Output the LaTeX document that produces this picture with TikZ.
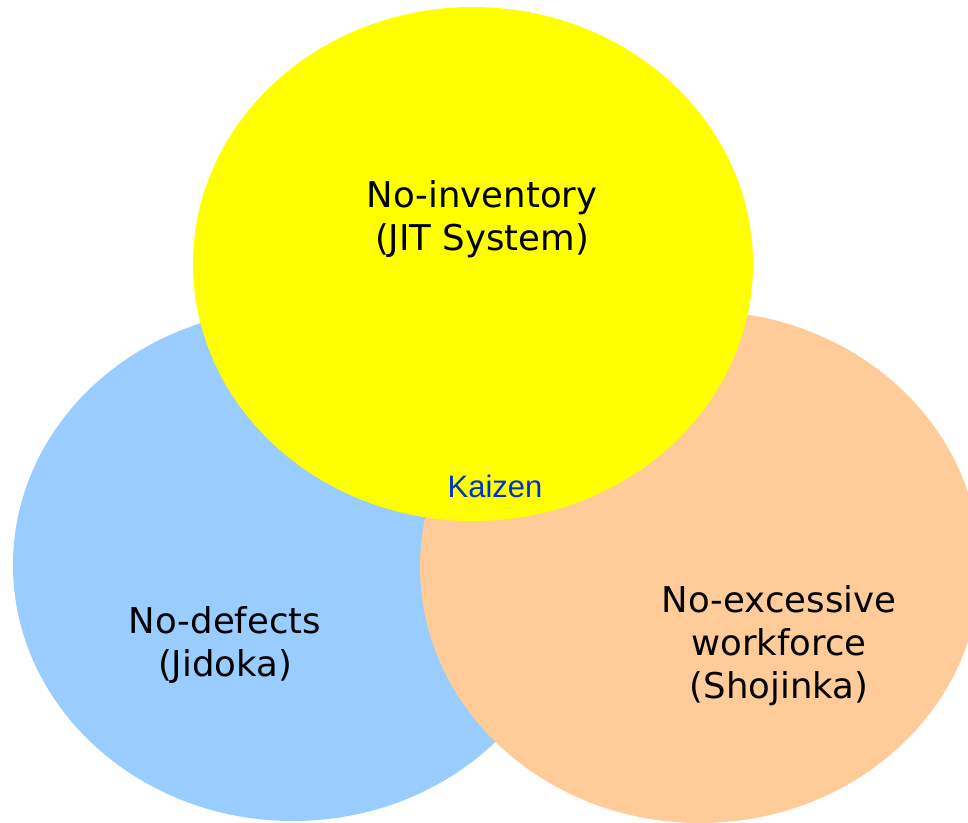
\documentclass[tikz,border=0pt]{standalone}
\usepackage{fontspec}
\usepackage{tikz}
\usetikzlibrary{positioning}
\newfontfamily\labelfont{DejaVu Sans}
\newfontfamily\kaizenfont{Liberation Sans}
\definecolor{inventoryyellow}{HTML}{FFFF00}
\definecolor{defectsblue}{HTML}{99CCFF}
\definecolor{workforceorange}{HTML}{FFCC99}
\definecolor{kaizenblue}{HTML}{0033CC}

\begin{document}
\begin{tikzpicture}[x=1pt, y=-1pt,
labeltext/.style={font=\labelfont\fontsize{35.5}{43}\selectfont, align=center, text=black, inner sep=0pt},
kaizentext/.style={font=\kaizenfont\fontsize{31}{36}\selectfont, text=kaizenblue, inner sep=0pt},
]
\useasboundingbox (0,0) rectangle (968,822);
\clip (0,0) rectangle (968,822);
%Circles
\fill[defectsblue] (293,565) ellipse [x radius=280pt, y radius=256pt];
\fill[workforceorange] (700,567) ellipse [x radius=280pt, y radius=256pt];
\fill[inventoryyellow] (473,264) ellipse [x radius=280pt, y radius=257pt];
%Nodes
\node[labeltext] (NI) at (482,219) {No-inventory\\(JIT System)};
\node[labeltext] (ND) at (225,645) {No-defects\\(Jidoka)};
\node[labeltext] (NW) at (779,646) {No-excessive\\workforce\\(Shojinka)};
\node[kaizentext, anchor=base] (KZ) at (495,497) {Kaizen};
\end{tikzpicture}
\end{document}
